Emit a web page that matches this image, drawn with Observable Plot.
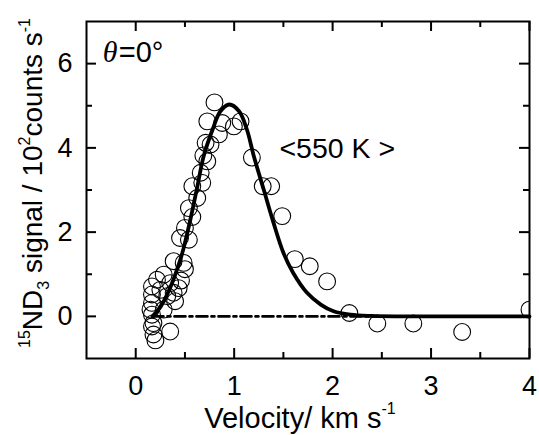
<!DOCTYPE html>
<html><head><meta charset="utf-8">
<script src="https://cdn.jsdelivr.net/npm/d3@7"></script>
<script src="https://cdn.jsdelivr.net/npm/@observablehq/plot@0.6"></script>
<style>
body{margin:0;background:#fff}
#chart svg{font-family:Arial,"Liberation Sans",sans-serif;}
</style>
</head><body><div id="chart"></div>
<script>
// measured data points (velocity km/s, signal 10^2 counts/s)
const velocity = [0.15,0.165,0.18,0.165,0.18,0.20,0.35,0.284,0.165,0.165,0.165,0.216,0.284,0.25,0.32,0.385,0.40,0.35,0.436,0.46,0.385,0.487,0.50,0.45,0.54,0.50,0.575,0.54,0.625,0.575,0.676,0.66,0.727,0.687,0.71,0.76,0.845,0.727,0.80,0.879,0.997,1.065,1.18,1.29,1.376,1.488,1.616,1.768,1.944,2.17,2.454,2.82,3.316,4.0];
const signal   = [0.16,0.04,-0.16,-0.24,-0.43,-0.57,-0.36,0.16,0.32,0.52,0.71,0.87,0.99,0.63,0.48,0.56,0.36,0.79,0.67,0.85,1.31,1.27,1.12,1.86,1.82,2.10,2.36,2.57,2.81,3.09,3.17,3.41,3.68,3.82,4.12,4.08,4.32,4.63,5.08,4.59,4.51,4.63,3.77,3.09,3.09,2.38,1.36,1.19,0.83,0.08,-0.17,-0.17,-0.37,0.16];
// fitted distribution curve
const fitVelocity = [0.17,0.25,0.35,0.44,0.49,0.56,0.625,0.69,0.78,0.86,0.95,1.05,1.13,1.2,1.3,1.4,1.5,1.6,1.74,1.88,2.01,2.18,2.4,2.7,4];
const fitSignal   = [0,0.22,0.68,1.25,1.65,2.35,3.07,3.8,4.43,4.87,5.03,4.87,4.43,3.8,3.01,2.22,1.51,1.03,0.56,0.28,0.12,0.04,0.01,0,0];
// zero baseline (dash-dot)
const baseVelocity = [0.17, 4];
const baseSignal = [0, 0];
// ticks
const xTicks = [0,1,2,3,4];
const xMinor = [0.5,1.5,2.5,3.5];
const yTicks = [0,2,4,6];
const yMinor = [1,3,5];
// annotations
const labelTheta = [{x:-0.335, y:6.05}];
const labelTemp = [{x:1.46, y:3.77, text:"<550 K >"}];

const points = velocity.map((v,i)=>({v, s:signal[i]}));
const fit = fitVelocity.map((v,i)=>({v, s:fitSignal[i]}));
const base = baseVelocity.map((v,i)=>({v, s:baseSignal[i]}));

const W=539, H=435, mT=21, mR=10, mB=77, mL=86;
const iH = H-mT-mB, iW = W-mL-mR;
const maj=10, mnr=6;

const chart = Plot.plot({
  width:W, height:H, marginTop:mT, marginRight:mR, marginBottom:mB, marginLeft:mL,
  style:{fontSize:"27px", fontFamily:"Arial, 'Liberation Sans', sans-serif", color:"black", background:"white"},
  x:{domain:[-0.5,4]},
  y:{domain:[-1,7]},
  marks:[
    Plot.axisX(xTicks,{tickSize:0, tickPadding:17, fontSize:27, label:null}),
    Plot.axisY(yTicks,{tickSize:0, tickPadding:14, fontSize:27, label:null}),
    Plot.tickX(xTicks,{x:d=>d, insetTop:iH-maj, strokeWidth:2}),
    Plot.tickX(xTicks,{x:d=>d, insetBottom:iH-maj, strokeWidth:2}),
    Plot.tickX(xMinor,{x:d=>d, insetTop:iH-mnr, strokeWidth:2}),
    Plot.tickX(xMinor,{x:d=>d, insetBottom:iH-mnr, strokeWidth:2}),
    Plot.tickY(yTicks,{y:d=>d, insetRight:iW-maj, strokeWidth:2}),
    Plot.tickY(yTicks,{y:d=>d, insetLeft:iW-maj, strokeWidth:2}),
    Plot.tickY(yMinor,{y:d=>d, insetRight:iW-mnr, strokeWidth:2}),
    Plot.tickY(yMinor,{y:d=>d, insetLeft:iW-mnr, strokeWidth:2}),
    Plot.line(base,{x:"v", y:"s", stroke:"black", strokeWidth:2.6, strokeDasharray:"11,4,3,4"}),
    Plot.dot(points,{x:"v", y:"s", r:8.4, stroke:"black", strokeWidth:1.1, fill:"none", clip:"frame"}),
    Plot.line(fit,{x:"v", y:"s", stroke:"black", strokeWidth:3.8, curve:"catmull-rom"}),
    Plot.text(labelTheta,{x:"x", y:"y", text:()=>"θ", textAnchor:"start", lineAnchor:"bottom", fontSize:30, fontFamily:"'Liberation Serif','Times New Roman',serif", fontStyle:"italic"}),
    Plot.text(labelTheta,{x:"x", y:"y", text:()=>"=0°", dx:16, textAnchor:"start", lineAnchor:"bottom", fontSize:29}),
    Plot.text(labelTemp,{x:"x", y:"y", text:"text", textAnchor:"start", lineAnchor:"bottom", fontSize:28.5}),
    Plot.frame({stroke:"black", strokeWidth:2})
  ]
});
document.getElementById("chart").appendChild(chart);

// axis titles with super/subscripts
const svg = d3.select(chart);
const xt = svg.append("text").attr("x", 300).attr("y", 428).attr("text-anchor","middle")
  .attr("font-size", 29).attr("fill","black");
xt.append("tspan").text("Velocity/ km s");
xt.append("tspan").attr("font-size",16).attr("dy",-14).text("-1");

const yt = svg.append("text").attr("transform","translate(42,183) rotate(-90)").attr("text-anchor","middle")
  .attr("font-size", 28).attr("fill","black");
yt.append("tspan").attr("font-size",16).attr("dy",-12).text("15");
yt.append("tspan").attr("dy",12).text("ND");
yt.append("tspan").attr("font-size",16).attr("dy",7).text("3");
yt.append("tspan").attr("dy",-7).text(" signal / 10");
yt.append("tspan").attr("font-size",16).attr("dy",-12).text("2");
yt.append("tspan").attr("dy",12).text("counts s");
yt.append("tspan").attr("font-size",16).attr("dy",-12).text("-1");
</script>
</body></html>
